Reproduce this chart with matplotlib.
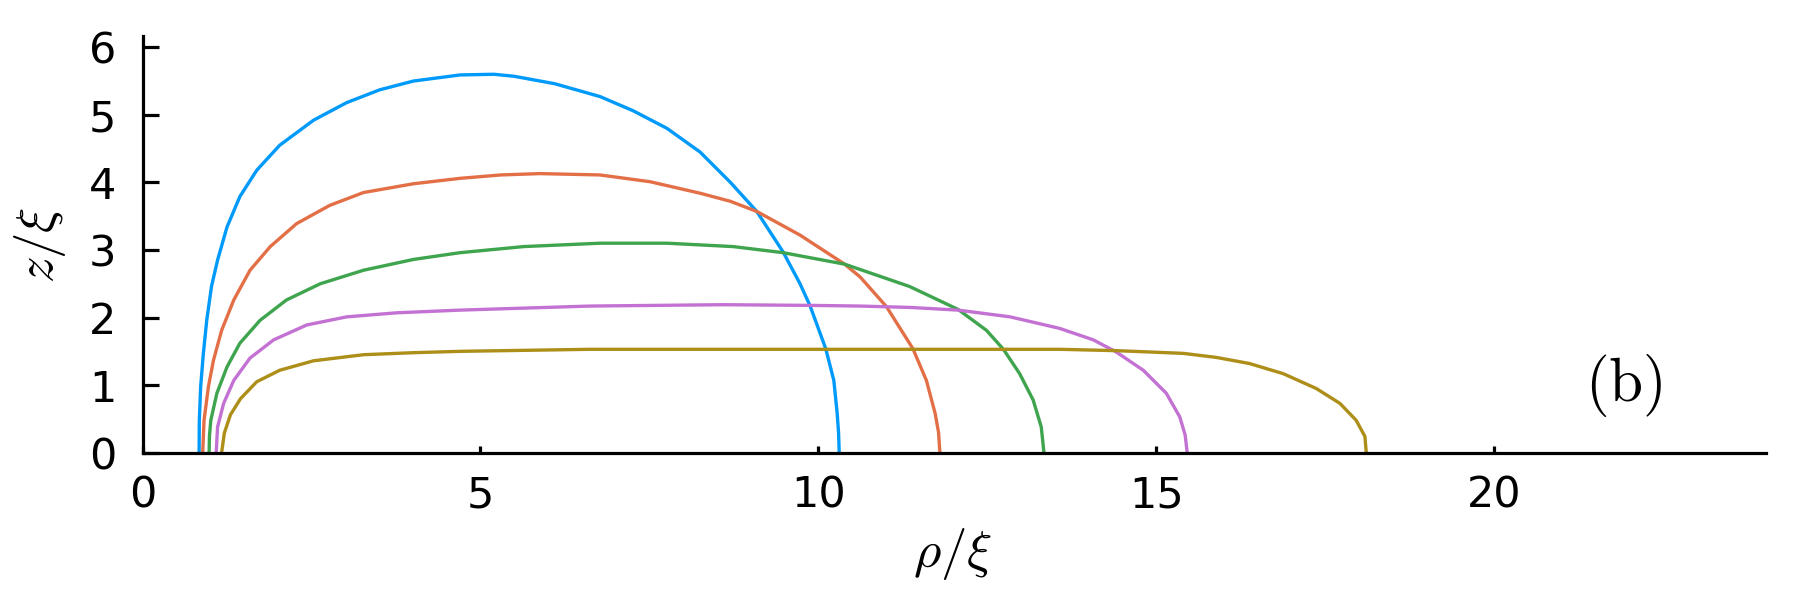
import matplotlib
matplotlib.use("Agg")
import matplotlib.pyplot as plt

plt.rcParams['mathtext.fontset'] = 'cm'
plt.rcParams['font.family'] = 'DejaVu Sans'

# curve profiles (rho/xi, z/xi)
x1 = [0.837, 0.84, 0.86, 0.90, 0.95, 1.02, 1.11, 1.25, 1.44, 1.69, 2.03, 2.53, 3.02, 3.51, 4.01, 4.70, 5.20, 5.50, 6.10,
      6.77, 7.26, 7.76, 8.25, 8.70, 9.09, 9.48, 9.73, 9.88, 10.11, 10.23, 10.28, 10.30, 10.31]
y1 = [0, 0.48, 0.98, 1.47, 1.96, 2.46, 2.85, 3.34, 3.79, 4.18, 4.55, 4.92, 5.18, 5.37, 5.50, 5.59, 5.60, 5.57, 5.46,
      5.27, 5.06, 4.80, 4.45, 4.00, 3.57, 2.97, 2.50, 2.17, 1.54, 1.07, 0.58, 0.30, 0]

x2 = [0.89, 0.91, 0.975, 1.05, 1.17, 1.35, 1.59, 1.89, 2.28, 2.77, 3.27, 4.01, 4.70, 5.30, 5.88, 6.77, 7.51, 8.25,
      8.70, 9.09, 9.73, 10.39, 10.62, 11.01, 11.40, 11.60, 11.73, 11.78, 11.80]
y2 = [0, 0.48, 0.98, 1.37, 1.81, 2.26, 2.70, 3.05, 3.39, 3.66, 3.85, 3.98, 4.06, 4.11, 4.13, 4.11, 4.01, 3.84,
      3.72, 3.57, 3.22, 2.79, 2.60, 2.16, 1.54, 1.07, 0.58, 0.30, 0]

x3 = [0.985, 0.99, 1.01, 1.10, 1.25, 1.44, 1.74, 2.13, 2.63, 3.27, 4.01, 4.70, 5.64, 6.77, 7.76, 8.74, 9.48, 10.39,
      11.35, 12.07, 12.49, 12.74, 12.98, 13.18, 13.30, 13.34]
y3 = [0, 0.25, 0.48, 0.88, 1.27, 1.62, 1.96, 2.26, 2.50, 2.70, 2.86, 2.96, 3.05, 3.10, 3.10, 3.05, 2.96, 2.79,
      2.46, 2.12, 1.81, 1.53, 1.17, 0.78, 0.38, 0]

x4 = [1.09, 1.11, 1.20, 1.35, 1.59, 1.94, 2.43, 3.02, 3.76, 4.70, 6.62, 8.59, 9.88, 10.62, 11.35, 12.07, 12.84,
      13.57, 14.07, 14.41, 14.81, 15.15, 15.35, 15.43, 15.46]
y4 = [0, 0.38, 0.73, 1.07, 1.40, 1.67, 1.89, 2.01, 2.07, 2.11, 2.17, 2.19, 2.18, 2.17, 2.15, 2.11, 2.01,
      1.84, 1.67, 1.49, 1.22, 0.88, 0.53, 0.26, 0]

x5 = [1.17, 1.21, 1.30, 1.45, 1.69, 2.03, 2.53, 3.27, 4.01, 4.70, 6.62, 9.0, 11.0, 13.58, 14.41, 14.91, 15.40,
      15.89, 16.38, 16.88, 17.37, 17.72, 17.96, 18.09, 18.11]
y5 = [0, 0.29, 0.56, 0.80, 1.05, 1.22, 1.36, 1.45, 1.48, 1.50, 1.53, 1.53, 1.53, 1.53, 1.51, 1.49, 1.47,
      1.41, 1.32, 1.17, 0.95, 0.73, 0.48, 0.24, 0]

colors = ['#009AFA', '#E36F47', '#3EA44E', '#C371D2', '#AC8E18']

fig = plt.figure(figsize=(18, 6), dpi=100)
ax = fig.add_axes([0.0792, 0.2455, 0.9017, 0.6938])

for xs, ys, c in zip([x1, x2, x3, x4, x5], [y1, y2, y3, y4, y5], colors):
    ax.plot(xs, ys, color=c, linewidth=2.4, clip_on=False, solid_joinstyle='round')

ax.set_xlim(0, 24.02)
ax.set_ylim(0, 6.16)

for s in ['top', 'right']:
    ax.spines[s].set_visible(False)
for s in ['left', 'bottom']:
    ax.spines[s].set_linewidth(2.3)

ax.set_xticks([0, 5, 10, 15, 20])
ax.set_yticks([0, 1, 2, 3, 4, 5, 6])
ax.tick_params(axis='x', direction='in', length=5, width=2.3, labelsize=31, pad=16)
ax.tick_params(axis='y', direction='in', length=11.5, width=2.3, labelsize=31, pad=19)

fig.text(953 / 1800, 1 - 554 / 600, r'$\rho/\xi$', fontsize=38, ha='center', va='center')
fig.text(40 / 1800, 1 - 245 / 600, r'$z/\xi$', fontsize=38, ha='center', va='center', rotation=90)

ax.text(21.92, 0.99, r'$(\mathrm{b})$', fontsize=44, ha='center', va='center')

fig.savefig("out.png", dpi=100)
